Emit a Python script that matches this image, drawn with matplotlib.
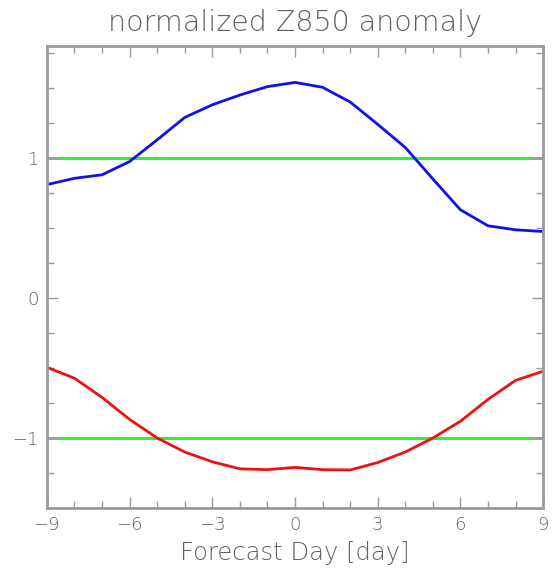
import matplotlib
matplotlib.use("Agg")
import matplotlib.pyplot as plt
import numpy as np
from matplotlib.ticker import MultipleLocator

# forecast day
days = np.arange(-9, 10)

# normalized anomaly curves
blue_vals = [0.81, 0.855, 0.88, 0.975, 1.13, 1.29, 1.38, 1.45, 1.51, 1.54,
             1.505, 1.40, 1.24, 1.075, 0.85, 0.63, 0.516, 0.487, 0.475]
red_vals = [-0.495, -0.573, -0.71, -0.867, -1.0, -1.10, -1.17, -1.22, -1.226, -1.21,
            -1.226, -1.228, -1.175, -1.10, -1.0, -0.88, -0.724, -0.588, -0.523]
ref_levels = [1, -1]

grey = "#9a9a9a"
txt = "#606060"
plt.rcParams['font.family'] = ['DejaVu Sans']
plt.rcParams['font.weight'] = 'light'

fig = plt.figure(figsize=(5.52, 5.68), dpi=100)
ax = fig.add_axes([0.085, 0.1056, 0.899, 0.8134])

for lv in ref_levels:
    ax.axhline(lv, color="#33ee33", lw=2.2, zorder=1)
ax.plot(days, blue_vals, color="#1010ee", lw=2, zorder=2)
ax.plot(days, red_vals, color="#ee1111", lw=2, zorder=2)

ax.set_xlim(-9, 9)
ax.set_ylim(-1.5, 1.8)
ax.xaxis.set_minor_locator(MultipleLocator(1))
ax.yaxis.set_minor_locator(MultipleLocator(0.25))
ax.set_xticks(np.arange(-9, 10, 3))
ax.set_xticklabels(["\u22129", "\u22126", "\u22123", "0", "3", "6", "9"])
ax.set_yticks([-1, 0, 1])
ax.set_yticklabels(["\u22121", "0", "1"])

ax.tick_params(which="both", direction="in", top=True, right=True,
               color=grey, labelcolor=txt, labelsize=13, width=1.0)
ax.tick_params(which="major", length=8, pad=6)
ax.tick_params(which="minor", length=5)
for s in ax.spines.values():
    s.set_color(grey)
    s.set_linewidth(2)

ax.set_xlabel("Forecast Day [day]", color=txt, fontsize=17.5, labelpad=5, fontweight='light')
ax.set_title("normalized Z850 anomaly", color=txt, fontsize=20.5, pad=11, fontweight='light')

fig.savefig("out.png", dpi=100)
